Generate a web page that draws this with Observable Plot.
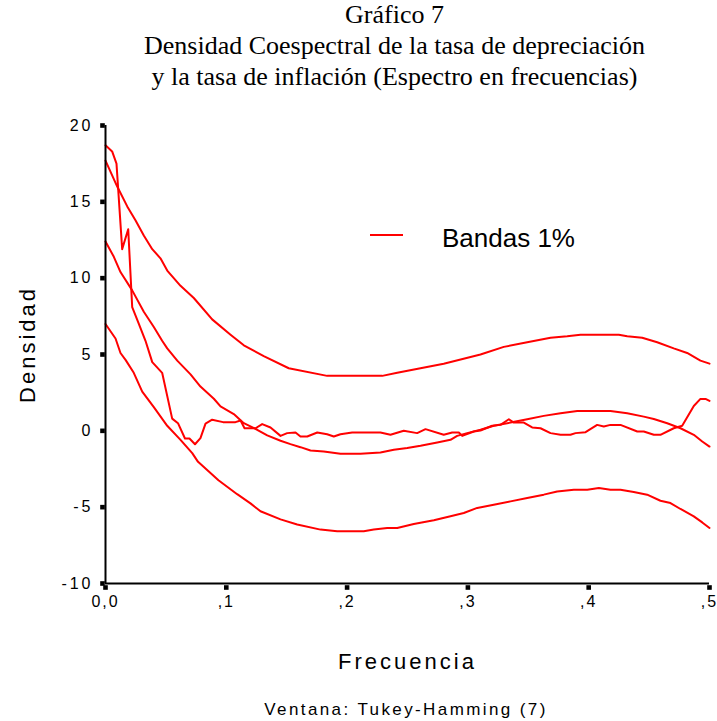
<!DOCTYPE html>
<html>
<head>
<meta charset="utf-8">
<script src="https://cdn.jsdelivr.net/npm/d3@7"></script>
<script src="https://cdn.jsdelivr.net/npm/@observablehq/plot@0.6"></script>
<style>
  html, body { margin: 0; padding: 0; background: #fff; }
  #wrap { position: relative; width: 717px; height: 721px; overflow: hidden; }
  #title { box-sizing: border-box; width: 717px; height: 95px; padding-left: 72px; text-align: center;
           font-family: "Liberation Serif", "Times New Roman", serif; font-size: 26px; line-height: 31px; color: #000; margin-top: -1px; }
  #chart svg text { letter-spacing: 3px; }
  #chart svg g[aria-label="x-axis tick label"] text { letter-spacing: 2px; }
  #caption { box-sizing: border-box; width: 717px; padding-left: 95px; text-align: center; margin-top: 26px;
             font-family: "Liberation Sans", Arial, sans-serif; font-size: 17px; line-height: 20px; letter-spacing: 2.4px; color: #000; }
  #legend { position: absolute; left: 370px; top: 222px; height: 32px; }
  #legend .swatch { position: absolute; left: 0; top: 12px; width: 33px; height: 2px; background: #ff0000; }
  #legend .lab { position: absolute; left: 72px; top: 0; white-space: nowrap;
                 font-family: "Liberation Sans", Arial, sans-serif; font-size: 26px; line-height: 32px; color: #000; }
</style>
</head>
<body>
<div id="wrap">
  <div id="title">Gráfico 7<br>Densidad Coespectral de la tasa de depreciación<br>y la tasa de inflación (Espectro en frecuencias)</div>
  <div id="chart"></div>
  <div id="caption">Ventana: Tukey-Hamming (7)</div>
  <div id="legend"><div class="swatch"></div><div class="lab">Bandas 1%</div></div>
</div>
<script>
// ---- Data ----
const upperFreq = [0, 0.0097, 0.018, 0.0248, 0.0317, 0.0387, 0.0455, 0.0511, 0.0621, 0.0731, 0.0883, 0.1035, 0.1145, 0.131, 0.1517, 0.1835, 0.2291, 0.2415, 0.28, 0.3104, 0.3297, 0.3491, 0.3684, 0.3822, 0.3932, 0.4249, 0.4319, 0.4443, 0.4567, 0.4704, 0.4815, 0.4925, 0.5];
const upperVal  = [17.7, 16.0, 14.7, 13.8, 12.8, 11.9, 11.3, 10.5, 9.5, 8.7, 7.3, 6.3, 5.6, 4.9, 4.1, 3.6, 3.6, 3.8, 4.4, 5.0, 5.5, 5.8, 6.1, 6.2, 6.3, 6.3, 6.2, 6.1, 5.8, 5.4, 5.1, 4.6, 4.4];

const midFreq = [0, 0.0069, 0.0124, 0.0221, 0.0317, 0.04, 0.0469, 0.0511, 0.0594, 0.0704, 0.0786, 0.0897, 0.0952, 0.1062, 0.1145, 0.1256, 0.1339, 0.1449, 0.1531, 0.1614, 0.1697, 0.1807, 0.1945, 0.2111, 0.2276, 0.2387, 0.2498, 0.2608, 0.2746, 0.2856, 0.2911, 0.2994, 0.3104, 0.3214, 0.3353, 0.3491, 0.3628, 0.3767, 0.3905, 0.418, 0.4319, 0.4456, 0.4539, 0.465, 0.476, 0.487, 0.494, 0.5];
const midVal  = [12.4, 11.4, 10.4, 9.2, 7.8, 6.8, 5.9, 5.4, 4.6, 3.7, 2.9, 2.1, 1.6, 1.1, 0.5, 0.07, -0.3, -0.65, -0.87, -1.07, -1.29, -1.35, -1.5, -1.5, -1.42, -1.24, -1.13, -0.98, -0.76, -0.59, -0.33, -0.15, 0.07, 0.33, 0.54, 0.76, 0.98, 1.15, 1.3, 1.3, 1.15, 0.93, 0.78, 0.5, 0.17, -0.26, -0.7, -1.03];

const estFreq = [0, 0.0055, 0.0091, 0.0138, 0.0188, 0.0221, 0.0276, 0.0331, 0.0387, 0.0469, 0.0552, 0.060, 0.0658, 0.0695, 0.0741, 0.0786, 0.0828, 0.0883, 0.0973, 0.1076, 0.1118, 0.1151, 0.1242, 0.1297, 0.1366, 0.1449, 0.1504, 0.1573, 0.1614, 0.167, 0.1753, 0.1835, 0.189, 0.1945, 0.2042, 0.2276, 0.2359, 0.2469, 0.258, 0.2649, 0.28, 0.287, 0.2925, 0.2953, 0.3049, 0.3104, 0.3201, 0.327, 0.3339, 0.338, 0.3463, 0.3532, 0.3601, 0.3684, 0.3767, 0.3849, 0.3891, 0.3974, 0.407, 0.4125, 0.418, 0.4263, 0.4402, 0.4456, 0.4539, 0.4594, 0.4704, 0.4774, 0.487, 0.4925, 0.4967, 0.5];
const estVal  = [18.7, 18.3, 17.5, 11.9, 13.2, 8.1, 7.0, 5.9, 4.5, 3.8, 0.8, 0.5, -0.5, -0.5, -0.88, -0.48, 0.47, 0.73, 0.57, 0.57, 0.68, 0.17, 0.17, 0.44, 0.22, -0.33, -0.15, -0.11, -0.37, -0.37, -0.11, -0.22, -0.37, -0.22, -0.11, -0.11, -0.26, 0, -0.15, 0.11, -0.26, -0.11, -0.11, -0.33, -0.04, 0.02, 0.33, 0.39, 0.76, 0.54, 0.54, 0.22, 0.17, -0.15, -0.26, -0.26, -0.15, -0.09, 0.39, 0.28, 0.39, 0.39, -0.04, -0.04, -0.26, -0.26, 0.17, 0.33, 1.63, 2.09, 2.09, 1.96];

const lowerFreq = [0, 0.0083, 0.0124, 0.0166, 0.0234, 0.0304, 0.04, 0.0511, 0.0621, 0.0718, 0.0766, 0.0853, 0.0935, 0.109, 0.12, 0.1283, 0.1449, 0.1587, 0.178, 0.1918, 0.2138, 0.2221, 0.2332, 0.2415, 0.2552, 0.2718, 0.2856, 0.2966, 0.3077, 0.3214, 0.3353, 0.3491, 0.3628, 0.3739, 0.3877, 0.3988, 0.4084, 0.418, 0.4263, 0.4373, 0.4484, 0.4594, 0.4677, 0.476, 0.487, 0.494, 0.5];
const lowerVal  = [7.0, 6.05, 5.1, 4.65, 3.8, 2.57, 1.55, 0.33, -0.59, -1.46, -2.03, -2.65, -3.24, -4.15, -4.75, -5.27, -5.8, -6.14, -6.47, -6.58, -6.58, -6.47, -6.36, -6.36, -6.1, -5.86, -5.6, -5.38, -5.05, -4.84, -4.62, -4.4, -4.18, -3.97, -3.86, -3.86, -3.75, -3.86, -3.86, -4.0, -4.18, -4.58, -4.73, -5.12, -5.6, -6.0, -6.36];

const yTicks = [-10, -5, 0, 5, 10, 15, 20];
const xTicks = [0, 0.1, 0.2, 0.3, 0.4, 0.5];
const xTickLabels = ["0,0", ",1", ",2", ",3", ",4", ",5"];

// ---- Build table ----
const rows = [];
function addSeries(name, fs, vs) { fs.forEach((f, i) => rows.push({series: name, f, v: vs[i]})); }
addSeries("upper", upperFreq, upperVal);
addSeries("mid", midFreq, midVal);
addSeries("est", estFreq, estVal);
addSeries("lower", lowerFreq, lowerVal);

const chart = Plot.plot({
  width: 717,
  height: 580,
  marginTop: 31,
  marginBottom: 91,
  marginLeft: 105,
  marginRight: 8,
  style: {fontFamily: "'Liberation Sans', Arial, sans-serif", fontSize: "16px", color: "#000", background: "#fff", overflow: "visible"},
  x: {domain: [0, 0.5]},
  y: {domain: [-10, 20]},
  marks: [
    Plot.axisY(yTicks, {tickSize: 0, tickPadding: 12, tickFormat: d => String(d), label: null, fontSize: 16}),
    Plot.axisX(xTicks, {tickSize: 0, tickPadding: 12, tickFormat: d => xTickLabels[xTicks.indexOf(d)], label: null, fontSize: 16}),
    Plot.line(rows, {x: "f", y: "v", z: "series", stroke: "#ff0000", strokeWidth: 2}),
    Plot.ruleX([0], {stroke: "#000", strokeWidth: 2}),
    Plot.ruleY([-10], {stroke: "#000", strokeWidth: 2}),
    Plot.dot(yTicks, {y: d => d, frameAnchor: "left", dx: -3, symbol: "square", r: 2.6, fill: "#000", stroke: null}),
    Plot.dot(xTicks, {x: d => d, frameAnchor: "bottom", dy: 4, symbol: "square", r: 2.6, fill: "#000", stroke: null}),
    Plot.text(["Densidad"], {frameAnchor: "left", dx: -78, dy: -10, rotate: -90, fontSize: 22, lineAnchor: "middle", textAnchor: "middle"}),
    Plot.text(["Frecuencia"], {frameAnchor: "bottom", dy: 78, fontSize: 22, lineAnchor: "middle", textAnchor: "middle"})
  ]
});
document.getElementById("chart").appendChild(chart);
</script>
</body>
</html>
